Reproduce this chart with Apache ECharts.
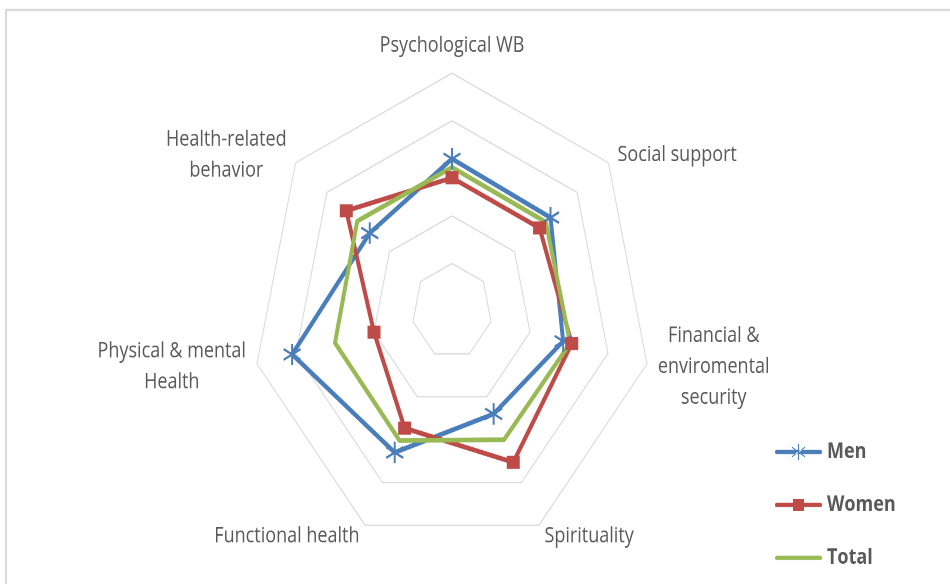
<!DOCTYPE html>
<html><head><meta charset="utf-8">
<script src="https://cdn.jsdelivr.net/npm/echarts@6/dist/echarts.min.js"></script>
<style>
html,body{margin:0;padding:0;background:#fff;overflow:hidden;}
#wrap{width:950px;height:584px;overflow:hidden;position:relative;background:#fff;}
#chart{width:950px;height:491px;transform:scaleY(1.18941);transform-origin:0 0;}
</style></head><body>
<div id="wrap"><div id="chart"></div></div>
<script>
// ---- data ----
const categories = ['Psychological WB', 'Social support', 'Financial &\nenviromental\nsecurity', 'Spirituality', 'Functional health', 'Physical & mental\nHealth', 'Health-related\nbehavior'];
const seriesNames = ['Men', 'Women', 'Total'];
const menValues = [3.2, 3.15, 2.85, 2.4, 3.3, 4.1, 2.63];
const womenValues = [2.8, 2.8, 3.07, 3.53, 2.73, 2.0, 3.38];
const totalValues = [3.02, 3.0, 3.03, 3.0, 3.02, 3.0, 3.03];
const axisMin = 0;
const axisMax = 5;
const ringCount = 5;

// ---- styling ----
const FONT = '"Open Sans", "Noto Sans", sans-serif';
const TXT = '#595959';
const COLORS = ['#4a7ebb', '#be4b48', '#98b954'];

// ECharts places radar indicators counter-clockwise; the reference goes clockwise
const order = [0, 6, 5, 4, 3, 2, 1];
const ordered = arr => order.map(i => arr[i]);

// measure label lines so multi-line names can be centred inside their block
const ctx = document.createElement('canvas').getContext('2d');
ctx.font = '18px "Open Sans"';
const rich = {};
const styleKey = {};
categories.forEach((name, i) => {
  const w = Math.max(...name.split('\n').map(l => ctx.measureText(l).width));
  const k = 'n' + i;
  styleKey[name] = k;
  rich[k] = { width: Math.ceil(w) + 2, align: 'center', fontSize: 18, lineHeight: 26, color: TXT, fontFamily: FONT };
});

const menIcon = 'path://M1.75,5.25H45.25A1.75,1.75 0 0 1 45.25,8.75H1.75A1.75,1.75 0 0 1 1.75,5.25Z' +
  'M23,0H24V14H23Z' +
  'M16.75,3.4L17.25,2.6L30.25,10.6L29.75,11.4Z' +
  'M16.75,10.6L17.25,11.4L30.25,3.4L29.75,2.6Z';
const womenIcon = 'path://M1.75,5.25H45.25A1.75,1.75 0 0 1 45.25,8.75H1.75A1.75,1.75 0 0 1 1.75,5.25Z' +
  'M18,2H29V12H18Z';
const totalIcon = 'path://M1.75,5.25H45.25A1.75,1.75 0 0 1 45.25,8.75H1.75A1.75,1.75 0 0 1 1.75,5.25Z';
const starSymbol = 'path://M0,-10V10M-8.66,-5L8.66,5M-8.66,5L8.66,-5';

const chart = echarts.init(document.getElementById('chart'), null, { renderer: 'canvas', devicePixelRatio: 2 });

const option = {
  animation: false,
  backgroundColor: '#fff',
  textStyle: { fontFamily: FONT },
  graphic: [{
    type: 'rect', silent: true,
    shape: { x: 6, y: 8.4, width: 1200, height: 1200 },
    style: { fill: 'none', stroke: '#d9d9d9', lineWidth: 2 }
  }],
  legend: {
    orient: 'vertical',
    left: 775,
    top: 371,
    padding: 0,
    itemWidth: 47,
    itemHeight: 14,
    itemGap: 26.5,
    align: 'left',
    itemStyle: { borderWidth: 0 },
    textStyle: { color: TXT, fontSize: 18, fontWeight: 'bold', fontFamily: FONT },
    data: [
      { name: seriesNames[0], icon: menIcon },
      { name: seriesNames[1], icon: womenIcon },
      { name: seriesNames[2], icon: totalIcon }
    ]
  },
  radar: {
    center: [452, 261.5],
    radius: 200,
    startAngle: 90,
    shape: 'polygon',
    splitNumber: ringCount,
    nameGap: 10,
    axisName: {
      color: TXT,
      fontSize: 18,
      fontFamily: FONT,
      lineHeight: 26,
      formatter: (name) => name.split('\n').map(l => '{' + styleKey[name] + '|' + l + '}').join('\n'),
      rich: rich
    },
    axisLine: { show: false },
    axisTick: { show: false },
    axisLabel: { show: false },
    splitArea: { show: false },
    splitLine: { lineStyle: { color: '#d9d9d9', width: 1 } },
    indicator: ordered(categories).map(name => ({ name: name, min: axisMin, max: axisMax }))
  },
  series: [{
    type: 'radar',
    data: [
      {
        name: seriesNames[0], value: ordered(menValues),
        symbol: starSymbol, symbolSize: [17, 18],
        lineStyle: { color: COLORS[0], width: 4, join: 'round', cap: 'round' },
        itemStyle: { color: COLORS[0], borderColor: COLORS[0], borderWidth: 2 }
      },
      {
        name: seriesNames[1], value: ordered(womenValues),
        symbol: 'rect', symbolSize: [13, 11],
        lineStyle: { color: COLORS[1], width: 4, join: 'round', cap: 'round' },
        itemStyle: { color: COLORS[1], borderWidth: 0 }
      },
      {
        name: seriesNames[2], value: ordered(totalValues),
        symbol: 'none',
        lineStyle: { color: COLORS[2], width: 4, join: 'round', cap: 'round' },
        itemStyle: { color: COLORS[2], borderWidth: 0 }
      }
    ]
  }]
};
chart.setOption(option);
</script>
</body></html>
